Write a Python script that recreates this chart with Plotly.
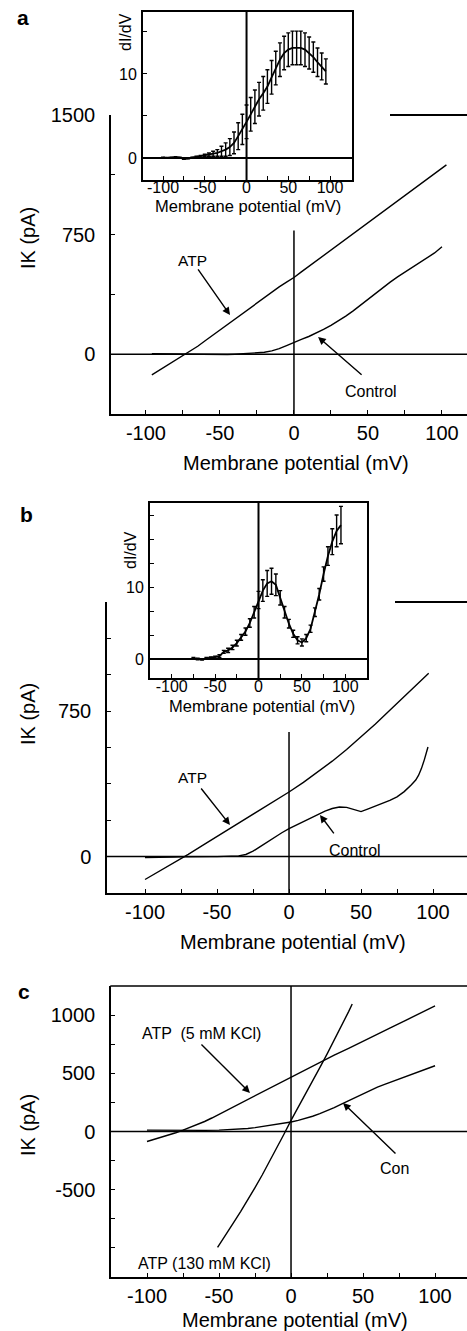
import plotly.graph_objects as go

W, H = 467, 1331
FONT = "Liberation Sans, Arial, sans-serif"

# ---------------- Panel a (main) ----------------
a_atp_v = [-96, -90, -85, -80, -75, -70, -65, -60, -55, -50, -45, -40, -35, -30, -25, -20, -15, -10, -5, 0,
           5, 10, 15, 20, 25, 30, 35, 40, 45, 50, 55, 60, 65, 70, 75, 80, 85, 90, 95, 100, 103]
a_atp_i = [-130, -95, -68, -40, -12, 18, 50, 84, 118, 152, 186, 220, 254, 288, 322, 356, 390, 422, 452, 481,
           516, 550, 584, 618, 652, 688, 722, 757, 791, 826, 860, 894, 928, 962, 996, 1030, 1064, 1098, 1130, 1165, 1187]
a_con_v = [-96, -90, -85, -80, -75, -70, -65, -60, -55, -50, -45, -40, -35, -30, -25, -20, -15, -10, -5, 0,
           5, 10, 15, 20, 25, 30, 35, 40, 45, 50, 55, 60, 65, 70, 75, 80, 85, 90, 95, 100]
a_con_i = [3, 2, 5, 3, 2, 1, 0, 1, 0, 0, -2, 0, 2, 4, 7, 12, 21, 35, 54, 76,
           93, 111, 132, 155, 181, 209, 239, 272, 308, 345, 383, 418, 452, 485, 516, 546, 576, 604, 635, 674]

# ---------------- Panel a (inset dI/dV) ----------------
ia_v = [-100, -95, -90, -85, -80, -75, -70, -65, -60, -55, -50, -45, -40, -35, -30, -25, -20, -15, -10, -5,
        0, 5, 10, 15, 20, 25, 30, 35, 40, 45, 50, 55, 60, 65, 70, 75, 80, 85, 90, 95]
ia_g = [0.05, 0.0, 0.05, 0.1, 0.05, -0.1, -0.05, 0.05, 0.1, 0.2, 0.3, 0.4, 0.5, 0.6, 0.8, 1.0, 1.3, 1.8, 2.6, 3.4,
        4.3, 5.2, 6.1, 7.0, 7.7, 8.5, 9.6, 10.7, 11.7, 12.5, 12.9, 13.1, 13.1, 13.1, 12.9, 12.5, 12.0, 11.4, 10.9, 10.3]
ia_e = [0.05, 0.05, 0.05, 0.05, 0.05, 0.05, 0.05, 0.05, 0.1, 0.1, 0.15, 0.2, 0.3, 0.4, 0.6, 0.8, 1.0, 1.3, 1.6, 1.8,
        2.0, 2.0, 2.0, 2.0, 2.0, 2.0, 2.0, 2.0, 2.0, 2.0, 2.0, 2.0, 2.0, 2.0, 2.0, 1.9, 1.8, 1.7, 1.6, 1.5]

# ---------------- Panel b (main) ----------------
b_atp_v = [-100, -90, -80, -72, -70, -60, -50, -40, -30, -20, -10, 0, 10, 20, 30, 40, 50, 60, 70, 80, 90, 97]
b_atp_i = [-118, -76, -33, 0, 12, 58, 104, 150, 195, 240, 286, 333, 383, 436, 492, 552, 616, 684, 754, 824, 894, 945]
b_con_v = [-100, -95, -90, -85, -80, -75, -70, -65, -60, -55, -50, -45, -40, -35, -30, -25, -20, -15, -10, -5, 0,
           5, 10, 15, 20, 25, 30, 35, 40, 45, 50, 55, 60, 65, 70, 75, 80, 85, 88, 90, 92, 94, 96.5]
b_con_i = [-5, -5, -4, -3, -2, -1, 0, 0, 0, 0, 0, 1, 2, 4, 11, 28, 52, 77, 101, 123, 144,
           163, 181, 199, 218, 235, 248, 256, 254, 242, 232, 246, 260, 272, 290, 308, 335, 370, 395, 420, 455, 500, 565]

# ---------------- Panel b (inset dI/dV) ----------------
ib_v = [-75, -70, -65, -60, -55, -50, -45, -40, -35, -30, -25, -20, -15, -10, -5, 0, 5, 10, 15, 20,
        25, 30, 35, 40, 45, 50, 55, 60, 65, 70, 75, 80, 85, 90, 95]
ib_g = [0.1, 0.0, -0.05, 0.1, 0.2, 0.25, 0.4, 1.0, 1.2, 1.6, 2.2, 3.0, 3.8, 5.0, 6.5, 8.2, 9.5, 10.5, 10.8, 10.3,
        8.5, 6.5, 4.9, 3.5, 2.6, 2.3, 2.9, 4.2, 6.5, 9.0, 11.8, 14.3, 16.3, 17.8, 18.6]
ib_e = [0.1, 0.1, 0.1, 0.1, 0.1, 0.15, 0.2, 0.2, 0.3, 0.3, 0.4, 0.4, 0.5, 0.6, 0.8, 1.2, 1.5, 1.8, 1.8, 1.5,
        1.0, 0.8, 0.6, 0.5, 0.5, 0.5, 0.5, 0.5, 0.6, 0.8, 1.0, 1.3, 1.8, 2.2, 2.6]

# ---------------- Panel c ----------------
c_atp5_v = [-100, -95, -90, -85, -80, -75, -70, -65, -60, -55, -50, -45, -40, -35, -30, -20, -10, 0,
            10, 20, 30, 40, 50, 60, 70, 80, 90, 100]
c_atp5_i = [-86, -68, -50, -31, -11, 11, 34, 59, 86, 116, 148, 180, 212, 243, 275, 340, 404, 469,
            534, 598, 657, 715, 773, 834, 896, 957, 1018, 1080]
c_con_v = [-100, -90, -80, -70, -60, -50, -45, -40, -35, -30, -25, -20, -15, -10, -5, 0,
           5, 10, 15, 20, 25, 30, 35, 40, 45, 50, 55, 60, 65, 70, 75, 80, 85, 90, 95, 100]
c_con_i = [12, 10, 8, 8, 10, 12, 14, 17, 21, 26, 33, 42, 52, 62, 72, 82,
           96, 112, 131, 153, 178, 206, 236, 266, 296, 326, 354, 381, 405, 428, 450, 471, 493, 516, 540, 565]
c_atp130_v = [-51, -48, -45, -42, -40, -35, -30, -25, -20, -15, -10, -5, 0, 5, 10, 15, 20, 25, 30, 35, 40, 42.5]
c_atp130_i = [-995, -940, -880, -820, -786, -688, -588, -482, -374, -262, -146, -26, 96, 207, 318, 432, 548,
              665, 783, 905, 1030, 1095]

# tick definitions
main_x_ticks = [-100, -75, -50, -25, 0, 25, 50, 75, 100]
main_x_text = ["-100", "", "-50", "", "0", "", "50", "", "100"]
a_y_ticks = [-375, 0, 375, 750, 1125, 1500]
a_y_text = ["", "0", "", "750", "", "1500"]
b_y_ticks = [-187.5, 0, 187.5, 375, 562.5, 750, 937.5, 1125, 1312.5]
b_y_text = ["", "0", "", "", "", "750", "", "", ""]
c_y_ticks = [-1250, -1000, -750, -500, -250, 0, 250, 500, 750, 1000, 1250]
c_y_text = ["", "", "", "-500", "", "0", "", "500", "", "1000", ""]
ia_y_ticks = [0, 5, 10, 15]
ia_y_text = ["0", "", "10", ""]
ib_y_ticks = [0, 10 / 3, 20 / 3, 10, 40 / 3, 50 / 3, 20]
ib_y_text = ["0", "", "", "10", "", "", ""]


def px(x):
    return x / W


def py(y):
    return 1 - y / H


fig = go.Figure()

line_main = dict(color="black", width=1.4)
line_ins = dict(color="black", width=1.8)
err_style = dict(type="data", width=2, thickness=1.4, color="black")

fig.add_trace(go.Scatter(x=a_atp_v, y=a_atp_i, mode="lines", line=line_main, xaxis="x", yaxis="y"))
fig.add_trace(go.Scatter(x=a_con_v, y=a_con_i, mode="lines", line=line_main, xaxis="x", yaxis="y"))
fig.add_trace(go.Scatter(x=ia_v, y=ia_g, mode="lines", line=line_ins, xaxis="x2", yaxis="y2",
                         error_y=dict(array=ia_e, **err_style)))
fig.add_trace(go.Scatter(x=b_atp_v, y=b_atp_i, mode="lines", line=line_main, xaxis="x3", yaxis="y3"))
fig.add_trace(go.Scatter(x=b_con_v, y=b_con_i, mode="lines", line=line_main, xaxis="x3", yaxis="y3"))
fig.add_trace(go.Scatter(x=ib_v, y=ib_g, mode="lines", line=line_ins, xaxis="x4", yaxis="y4",
                         error_y=dict(array=ib_e, **err_style)))
fig.add_trace(go.Scatter(x=c_atp5_v, y=c_atp5_i, mode="lines", line=line_main, xaxis="x5", yaxis="y5"))
fig.add_trace(go.Scatter(x=c_con_v, y=c_con_i, mode="lines", line=line_main, xaxis="x5", yaxis="y5"))
fig.add_trace(go.Scatter(x=c_atp130_v, y=c_atp130_i, mode="lines", line=line_main, xaxis="x5", yaxis="y5"))


def xax(dom, rng, tv, tt, fs, lw, anchor, mirror=False, standoff=6):
    return dict(domain=[px(dom[0]), px(dom[1])], range=rng, anchor=anchor, showline=True, linecolor="black",
                linewidth=lw, mirror=mirror, ticks="inside", ticklen=4, tickwidth=1.3, tickcolor="black",
                tickvals=tv, ticktext=tt, tickfont=dict(size=fs, color="black", family=FONT),
                showgrid=False, zeroline=False, ticklabelstandoff=standoff, fixedrange=True)


def yax(dom, rng, tv, tt, fs, lw, anchor, mirror=False, standoff=8):
    return dict(domain=[py(dom[1]), py(dom[0])], range=rng, anchor=anchor, showline=True, linecolor="black",
                linewidth=lw, mirror=mirror, ticks="inside", ticklen=4, tickwidth=1.3, tickcolor="black",
                tickvals=tv, ticktext=tt, tickfont=dict(size=fs, color="black", family=FONT),
                showgrid=False, zeroline=False, ticklabelstandoff=standoff, fixedrange=True)


fig.update_layout(
    width=W, height=H, margin=dict(l=0, r=0, t=0, b=0, pad=0, autoexpand=False),
    paper_bgcolor="white", plot_bgcolor="white", showlegend=False,
    font=dict(family=FONT, color="black"),
    xaxis=xax((111, 467), [-123.6, 116.9], main_x_ticks, main_x_text, 20, 1.5, "y", standoff=0),
    yaxis=yax((115, 414), [-375, 1500], a_y_ticks, a_y_text, 20, 1.5, "x", standoff=10),
    xaxis2=xax((143, 352), [-124, 126.3], main_x_ticks, main_x_text, 16, 2, "y2", mirror=True, standoff=-8),
    yaxis2=yax((12, 180), [-2.62, 17.38], ia_y_ticks, ia_y_text, 16, 2, "x2", mirror=True, standoff=1),
    xaxis3=xax((107, 467), [-126.4, 123.6], main_x_ticks, main_x_text, 20, 1.5, "y3", standoff=0),
    yaxis3=yax((602, 893), [-187.5, 1312.5], b_y_ticks, b_y_text, 20, 1.5, "x3", standoff=10),
    xaxis4=xax((150, 367), [-125, 125], main_x_ticks, main_x_text, 16, 2, "y4", mirror=True, standoff=-7),
    yaxis4=yax((503, 678), [-2.64, 21.67], ib_y_ticks, ib_y_text, 16, 2, "x4", mirror=True, standoff=1),
    xaxis5=xax((111, 467), [-125, 122.2], main_x_ticks, main_x_text, 20, 1.5, "y5", standoff=0),
    yaxis5=yax((986, 1277), [-1250, 1250], c_y_ticks, c_y_text, 20, 1.5, "x5", standoff=10),
)

shapes = []
blk = dict(color="black", width=1.5)
blk2 = dict(color="black", width=2)
shapes.append(dict(type="line", xref="x", yref="y", x0=-123.6, x1=116.9, y0=0, y1=0, line=blk))
shapes.append(dict(type="line", xref="x", yref="y", x0=0, x1=0, y0=-375, y1=775, line=blk))
shapes.append(dict(type="line", xref="x3", yref="y3", x0=-126.4, x1=123.6, y0=0, y1=0, line=blk))
shapes.append(dict(type="line", xref="x3", yref="y3", x0=0, x1=0, y0=-187.5, y1=642, line=blk))
shapes.append(dict(type="line", xref="x5", yref="y5", x0=-125, x1=122.2, y0=0, y1=0, line=blk))
shapes.append(dict(type="line", xref="x5", yref="y5", x0=0, x1=0, y0=-1250, y1=1250, line=blk))
shapes.append(dict(type="line", xref="x2", yref="y2", x0=-124, x1=126.3, y0=0, y1=0, line=blk2))
shapes.append(dict(type="line", xref="x2", yref="y2", x0=0, x1=0, y0=-2.62, y1=17.38, line=blk2))
shapes.append(dict(type="line", xref="x4", yref="y4", x0=-125, x1=125, y0=0, y1=0, line=blk2))
shapes.append(dict(type="line", xref="x4", yref="y4", x0=0, x1=0, y0=-2.64, y1=21.67, line=blk2))
shapes.append(dict(type="line", xref="paper", yref="paper", x0=px(390), x1=px(467), y0=py(115), y1=py(115), line=blk2))
shapes.append(dict(type="line", xref="paper", yref="paper", x0=px(395), x1=px(467), y0=py(602), y1=py(602), line=blk2))
shapes.append(dict(type="line", xref="paper", yref="paper", x0=px(110.3), x1=px(467), y0=py(986), y1=py(986), line=blk))
fig.update_layout(shapes=shapes)

ann = []


def text(s, x, y, size=16, bold=False, angle=0):
    ann.append(dict(text=("<b>%s</b>" % s) if bold else s, x=px(x), y=py(y), xref="paper", yref="paper",
                    showarrow=False, xanchor="center", yanchor="middle", textangle=angle,
                    font=dict(size=size, color="black", family=FONT)))


def arrow(xr, yr, xh, yh, ax, ay):
    ann.append(dict(text="", x=xh, y=yh, xref=xr, yref=yr, ax=ax, ay=ay, showarrow=True,
                    arrowhead=2, arrowsize=1.1, arrowwidth=1.4, arrowcolor="black", standoff=0, startstandoff=0))


text("a", 23, 17, 21, True)
text("b", 26, 515, 21, True)
text("c", 24, 992, 21, True)
text("Membrane potential (mV)", 296, 463, 20)
text("Membrane potential (mV)", 293, 942, 20)
text("Membrane potential (mV)", 295, 1320, 20)
text("Membrane potential (mV)", 248, 206, 16.5)
text("Membrane potential (mV)", 262, 706, 16.5)
text("IK (pA)", 28, 238, 20, angle=-90)
text("IK (pA)", 28, 714, 20, angle=-90)
text("IK (pA)", 28, 1125, 20, angle=-90)
text("dI/dV", 126, 32, 16, angle=-90)
text("dI/dV", 131, 550, 16, angle=-90)
text("ATP", 192, 260, 15.5)
text("Control", 371, 392, 16)
text("ATP", 192, 777, 15.5)
text("Control", 355, 850, 16)
text("ATP  (5 mM KCl)", 201, 1033, 16)
text("Con", 394, 1168, 16)
text("ATP (130 mM KCl)", 204, 1263, 16)
arrow("x", "y", -43.2, 246, -33, -47)
arrow("x", "y", 16.3, 108, 45, 39)
arrow("x3", "y3", -41.0, 163, -30, -38)
arrow("x3", "y3", 21.5, 215, 15, 20)
arrow("x5", "y5", -28.5, 331, -50, -50)
arrow("x5", "y5", 36.1, 245, 54, 52)
fig.update_layout(annotations=ann)

post = ("document.body.style.margin='0';document.body.style.overflow='hidden';"
        "var gd=document.getElementById('{plot_id}');gd.style.position='absolute';"
        "gd.style.left='0px';gd.style.top='0px';")
fig.write_html("out.html", post_script=post, config={"displayModeBar": False})
